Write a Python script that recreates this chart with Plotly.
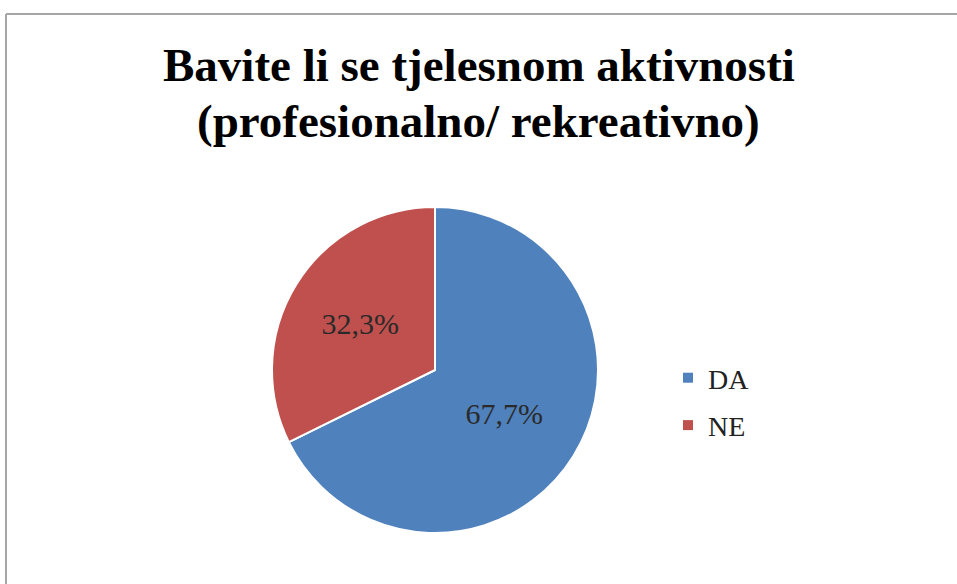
import plotly.graph_objects as go

categories = ["DA", "NE"]
values = [67.7, 32.3]
value_labels = ["67,7%", "32,3%"]
colors = ["#4F81BD", "#C0504D"]

title_lines = ["Bavite li se tjelesnom aktivnosti", "(profesionalno/ rekreativno)"]

W, H = 957, 584

fig = go.Figure()
fig.add_trace(go.Pie(
    labels=categories,
    values=values,
    text=value_labels,
    textinfo="text",
    textposition="inside",
    insidetextorientation="horizontal",
    sort=False,
    direction="clockwise",
    rotation=0,
    marker=dict(colors=colors, line=dict(color="white", width=2)),
    textfont=dict(family="Liberation Serif", size=30, color="#2a2a2a"),
    domain=dict(x=[272 / W, 598 / W], y=[1 - 533 / H, 1 - 207 / H]),
    hoverinfo="label+text",
    showlegend=False,
))

# legend entries (square swatches) drawn as empty scatter traces
for cat, col in zip(categories, colors):
    fig.add_trace(go.Scatter(
        x=[None], y=[None], mode="markers", name=cat,
        marker=dict(symbol="square", size=10, color=col),
        legendgroup=cat, showlegend=True,
    ))

annotations = []
for i, line in enumerate(title_lines):
    annotations.append(dict(
        text="<b>" + line + "</b>", xref="paper", yref="paper",
        x=0.5, y=1 - (65 + 56 * i) / H, xanchor="center", yanchor="middle",
        showarrow=False,
        font=dict(family="Liberation Serif", size=47, color="black"),
    ))

border = dict(color="#a6a6a6", width=2)

fig.update_layout(
    width=W, height=H,
    margin=dict(l=0, r=0, t=0, b=0),
    paper_bgcolor="white",
    plot_bgcolor="white",
    xaxis=dict(visible=False),
    yaxis=dict(visible=False),
    annotations=annotations,
    showlegend=True,
    legend=dict(
        x=668 / W, y=1 - 353 / H, xanchor="left", yanchor="top",
        font=dict(family="Liberation Serif", size=28, color="#222"),
        itemwidth=30, tracegroupgap=8, bgcolor="rgba(0,0,0,0)",
    ),
    shapes=[
        dict(type="line", xref="paper", yref="paper",
             x0=6 / W, x1=1.0, y0=1 - 14 / H, y1=1 - 14 / H, line=border),
        dict(type="line", xref="paper", yref="paper",
             x0=6 / W, x1=6 / W, y0=0, y1=1 - 14 / H, line=border),
    ],
)

fig.write_html("out.html", config={"displayModeBar": False},
               post_script="document.body.style.margin='0';")
